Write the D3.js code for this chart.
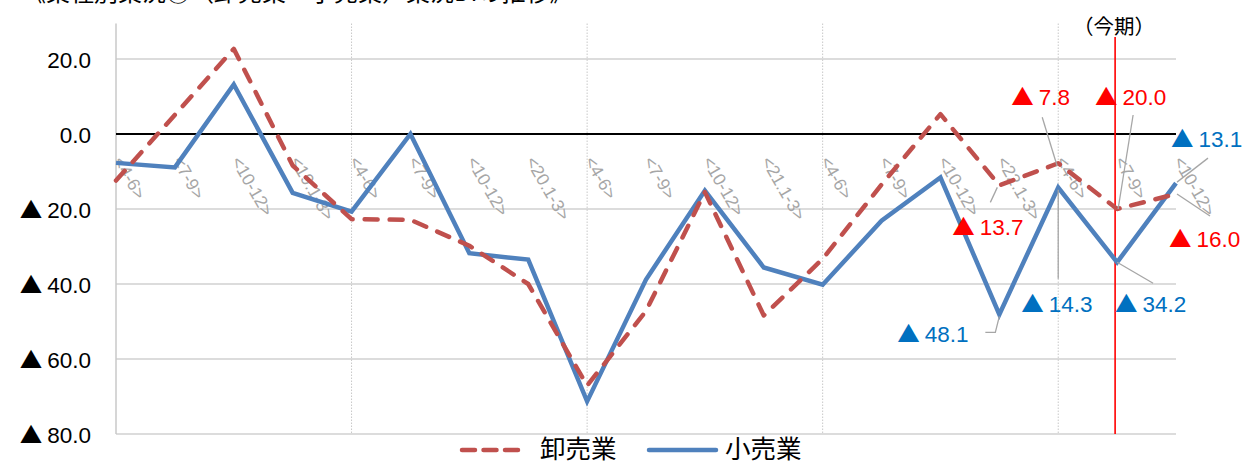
<!DOCTYPE html>
<html><head><meta charset="utf-8">
<script src="https://cdn.jsdelivr.net/npm/d3@7"></script>
<style>
html,body{margin:0;padding:0;background:#fff;}
svg{display:block;font-family:'Liberation Sans','Noto Sans CJK JP',sans-serif;}
</style></head>
<body><svg id="c" width="1249" height="461"></svg>
<script>
// ---- data ----
const categories = ["<4-6>","<7-9>","<10-12>","<19.1-3>","<4-6>","<7-9>","<10-12>","<20.1-3>","<4-6>","<7-9>","<10-12>","<21.1-3>","<4-6>","<7-9>","<10-12>","<22.1-3>","<4-6>","<7-9>","<10-12>"];
const wholesale = [-12.4, 5.1, 22.7, -8.4, -22.7, -22.9, -29.8, -40.0, -67.1, -47.2, -15.5, -48.4, -33.3, -13.5, 5.3, -13.7, -7.8, -20.0, -16.0];
const retail    = [-7.7, -8.9, 13.2, -15.7, -20.7, 0.0, -31.8, -33.5, -71.3, -38.8, -15.1, -35.6, -40.2, -23.1, -11.6, -48.1, -14.3, -34.2, -13.1];
const seriesNames = ["卸売業","小売業"];
const yTicks = [20, 0, -20, -40, -60, -80];
const currentIndex = 17;
const currentLabel = "（今期）";
const labeledIndices = [15, 16, 17, 18];
const title = "《業種別業況③（卸売業・小売業）業況DIの推移》";

// ---- layout ----
const svg = d3.select("#c");
const x = d3.scalePoint().domain(d3.range(categories.length)).range([116, 1176]);
const y = d3.scaleLinear().domain([-80, 30]).range([434, 21.5]);
const RED = "#C0504D", BLUE = "#4F81BD";
const CJK = "'Noto Sans CJK JP',sans-serif";
const NUM = "'Liberation Sans',sans-serif";

// writes "▲ 20.0" style values into a text selection
function writeValue(sel, v) {
  sel.text(null);
  if (v < 0) {
    sel.append("tspan").attr("font-family", CJK).attr("font-size", "1em").text("▲");
    sel.append("tspan").attr("font-family", NUM).attr("dx", "0.22em").text(Math.abs(v).toFixed(1));
  } else {
    sel.append("tspan").attr("font-family", NUM).text(v.toFixed(1));
  }
}

// title (cut off at top)
svg.append("text").attr("x", 22).attr("y", 1).attr("font-size", 24)
  .attr("font-family", CJK).attr("fill", "#000").text(title);

// horizontal gridlines
svg.append("g").selectAll("line").data(yTicks.filter(t => t !== 0)).join("line")
  .attr("x1", x(0)).attr("x2", x(categories.length - 1))
  .attr("y1", d => y(d)).attr("y2", d => y(d))
  .attr("stroke", "#D0D0D0").attr("stroke-width", 1.3);

// vertical dotted gridlines every 4 categories
svg.append("g").selectAll("line").data(d3.range(4, categories.length, 4)).join("line")
  .attr("x1", d => x(d)).attr("x2", d => x(d))
  .attr("y1", y(30) + 2).attr("y2", y(-80))
  .attr("stroke", "#C8C8C8").attr("stroke-width", 1).attr("stroke-dasharray", "1.5,1.5");

// y axis line
svg.append("line").attr("x1", x(0)).attr("x2", x(0)).attr("y1", y(30) + 2).attr("y2", y(-80))
  .attr("stroke", "#C8C8C8").attr("stroke-width", 1.5);

// y tick labels
const yAxis = d3.axisLeft(y).tickValues(yTicks).tickSize(0).tickPadding(0);
const ga = svg.append("g").attr("transform", `translate(${x(0) - 25},0)`).call(yAxis);
ga.select(".domain").remove();
ga.selectAll("text").attr("font-size", 22.5).attr("fill", "#000").attr("dy", "0.36em")
  .each(function(d) { writeValue(d3.select(this), d); });

// zero line
svg.append("line").attr("x1", x(0)).attr("x2", x(categories.length - 1))
  .attr("y1", y(0)).attr("y2", y(0)).attr("stroke", "#000").attr("stroke-width", 2.2);

// category labels (rotated)
svg.append("g").selectAll("text").data(categories).join("text")
  .attr("transform", (d, i) => `translate(${x(i) - 3},${y(0) + 27}) rotate(60)`)
  .attr("font-size", 17.5).attr("font-family", NUM).attr("fill", "#A6A6A6").text(d => d);

// current period line
svg.append("line").attr("x1", x(currentIndex) - 2).attr("x2", x(currentIndex) - 2)
  .attr("y1", 37).attr("y2", y(-80)).attr("stroke", "#FF0000").attr("stroke-width", 1.6);
svg.append("text").attr("x", x(currentIndex) - 3).attr("y", 34).attr("text-anchor", "middle")
  .attr("font-size", 20.5).attr("font-family", CJK).text(currentLabel);

// series lines
const line = d3.line().x((d, i) => x(i)).y(d => y(d));
svg.append("path").datum(retail).attr("d", line).attr("fill", "none")
  .attr("stroke", BLUE).attr("stroke-width", 4.5).attr("stroke-linejoin", "miter");
svg.append("path").datum(wholesale).attr("d", line).attr("fill", "none")
  .attr("stroke", RED).attr("stroke-width", 4.5).attr("stroke-dasharray", "13,12")
  .attr("stroke-linecap", "round").attr("stroke-linejoin", "round");

// data labels with leader lines
const redLayout = {
  15: {lead: [[-2, 2], [-9, 17]], lab: [-47, 50]},
  16: {lead: [[-1, 3], [-16, -46]], lab: [-47, -58]},
  17: {lead: [[1, 0], [16, -94]], lab: [-22, -104]},
  18: {lead: [[1, 0], [34, 22]], lab: [-7, 53]}
};
const blueLayout = {
  15: {lead: [[0, 2], [-4, 18], [-14, 18]], lab: [-102, 28]},
  16: {lead: [[0, 2], [0, 91]], lab: [-37, 124]},
  17: {lead: [[0, 0], [36, 21]], lab: [-2, 50]},
  18: {lead: [[1, -1], [32, -25]], lab: [-5, -36]}
};
function drawLabels(values, layout, color) {
  const g = svg.append("g");
  labeledIndices.forEach(i => {
    const px = x(i), py = y(values[i]);
    const L = layout[i];
    g.append("path").attr("d", d3.line()(L.lead.map(p => [px + p[0], py + p[1]])))
      .attr("fill", "none").attr("stroke", "#A6A6A6").attr("stroke-width", 1.3);
    const t = g.append("text").attr("x", px + L.lab[0]).attr("y", py + L.lab[1])
      .attr("font-size", 22.5).attr("fill", color);
    writeValue(t, values[i]);
  });
}
drawLabels(wholesale, redLayout, "#FF0000");
drawLabels(retail, blueLayout, "#0070C0");

// legend
const lg = svg.append("g");
lg.append("line").attr("x1", 462).attr("x2", 523).attr("y1", 450).attr("y2", 450)
  .attr("stroke", RED).attr("stroke-width", 4.5).attr("stroke-dasharray", "13,8.5").attr("stroke-linecap", "round");
lg.append("text").attr("x", 540).attr("y", 458).attr("font-size", 25.5)
  .attr("font-family", CJK).text(seriesNames[0]);
lg.append("line").attr("x1", 649).attr("x2", 716).attr("y1", 450).attr("y2", 450)
  .attr("stroke", BLUE).attr("stroke-width", 4.5).attr("stroke-linecap", "round");
lg.append("text").attr("x", 725).attr("y", 458).attr("font-size", 25.5)
  .attr("font-family", CJK).text(seriesNames[1]);
</script></body></html>
